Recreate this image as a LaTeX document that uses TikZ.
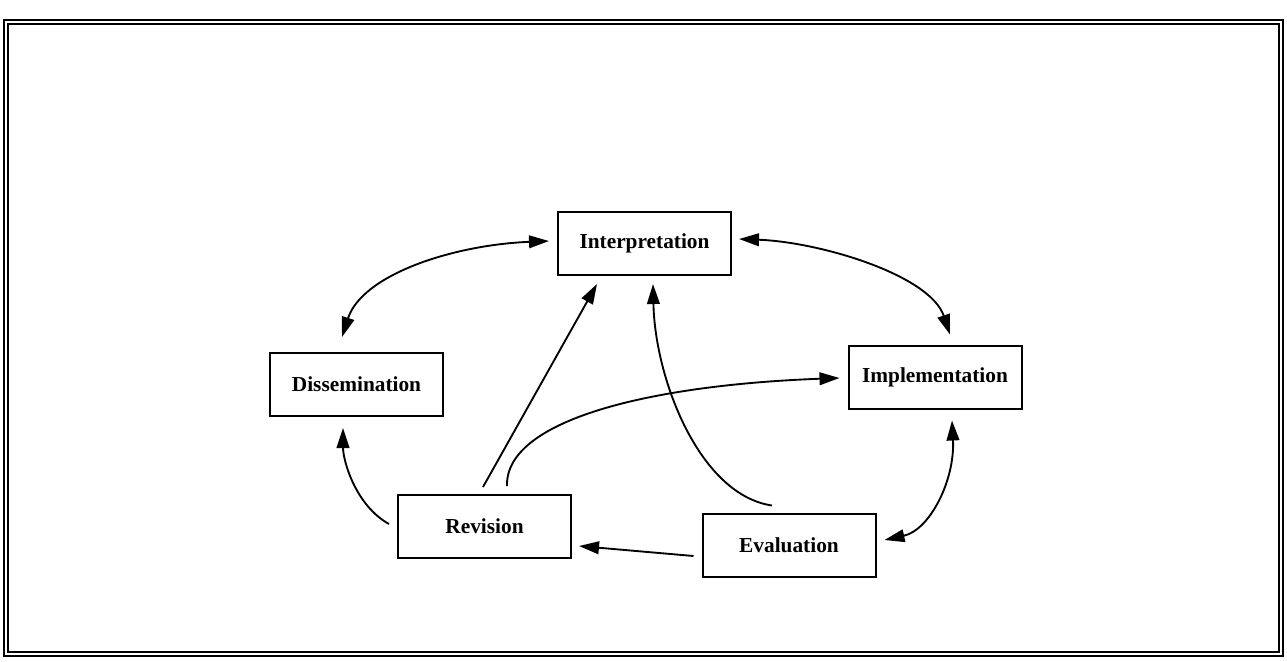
\documentclass[tikz,border=0pt]{standalone}
\usepackage{fontspec}
\setmainfont{Liberation Serif}
\usetikzlibrary{arrows.meta,calc}
\begin{document}
\begin{tikzpicture}[x=0.75pt,y=-0.75pt,
  box/.style={draw,line width=1.5pt,minimum width=129.75pt,minimum height=47.25pt,inner sep=0pt,
    font=\fontsize{16}{19}\selectfont\bfseries},
  tip/.style={Triangle[length=15pt,width=9.5pt]},
  conn/.style={line width=1.4pt,-{Triangle[length=15pt,width=9.5pt]}},
  conn2/.style={line width=1.4pt,{Triangle[length=15pt,width=9.5pt]}-{Triangle[length=15pt,width=9.5pt]}},
  frame/.style={line width=1.4pt}]
\useasboundingbox (0,0) rectangle (1287,661);
\draw[frame] (4,20) rectangle (1283,656);
\draw[frame] (8,24) rectangle (1279,652);

\node[box] (intp) at (644.5,243.5) {Interpretation};
\node[box] (diss) at (356.5,384.5) {Dissemination};
\node[box] (impl) at (935,377) {Implementation};
\node[box] (rev)  at (484.5,526.5) {Revision};
\node[box] (eval) at (789,545) {Evaluation};

% Interpretation <-> Dissemination
\draw[conn2] ($(diss.north)+(-14.5,-15)$) .. controls (362,275) and (452,245) .. ($(intp.west)+(-8,-2.5)$);
% Interpretation <-> Implementation
\draw[conn2] ($(intp.east)+(7,-4.5)$) .. controls (820,242) and (930,275) .. ($(impl.north)+(15,-10)$);
% Revision -> Dissemination
\draw[conn] ($(rev.west)+(-8,-2.5)$) .. controls (355,505) and (343,460) .. ($(diss.south)+(-13.5,11)$);
% Revision -> Interpretation
\draw[conn] ($(rev.north)+(-1.5,-7)$) -- ($(intp.south)+(-47.5,8)$);
% Revision -> Implementation
\draw[conn] ($(rev.north)+(22.5,-8)$) .. controls (505,420) and (650,385) .. ($(impl.west)+(-8,1)$);
% Evaluation -> Interpretation
\draw[conn] ($(eval.north)+(-17,-7)$) .. controls (700,495) and (655,380) .. ($(intp.south)+(8.5,8)$);
% Evaluation -> Revision
\draw[conn] ($(eval.west)+(-8,11)$) -- ($(rev.east)+(7,19.5)$);
% Evaluation <-> Implementation
\draw[conn2] ($(eval.east)+(8,-5)$) .. controls (930,530) and (955,480) .. ($(impl.south)+(17,11)$);
\end{tikzpicture}
\end{document}
